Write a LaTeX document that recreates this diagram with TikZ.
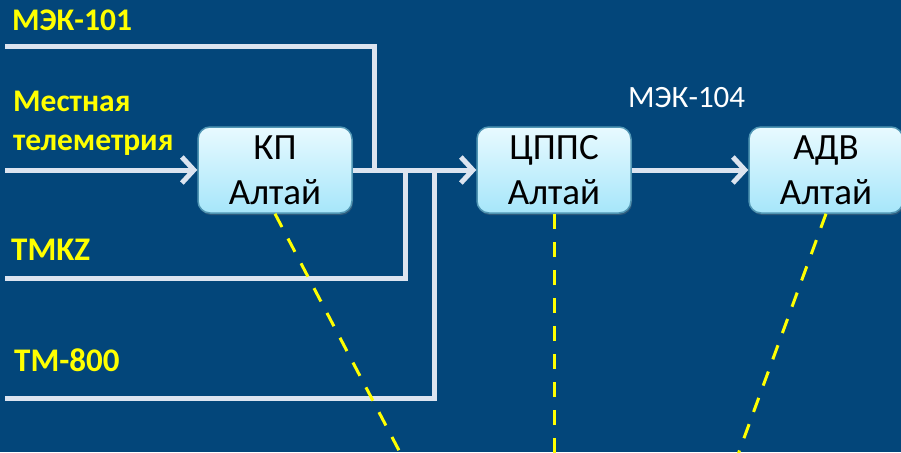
\documentclass[tikz,border=0pt]{standalone}
\usepackage{fontspec}
\setmainfont{Carlito}
\usetikzlibrary{arrows.meta,shadows}
\definecolor{bg}{RGB}{3,70,122}
\definecolor{wirec}{RGB}{220,228,240}
\definecolor{boxtop}{RGB}{232,250,255}
\definecolor{boxbot}{RGB}{166,230,250}
\definecolor{boxline}{RGB}{80,150,180}
\definecolor{ylw}{RGB}{255,255,0}
\tikzset{
  block/.style={rounded corners=12pt, top color=boxtop, bottom color=boxbot,
    draw=boxline, line width=1.5pt, minimum width=154pt, minimum height=86pt,
    inner sep=0pt, align=center, text=black,
    font=\fontsize{37}{45}\selectfont,
    drop shadow={opacity=0.35, shadow xshift=1pt, shadow yshift=-2pt}},
  wire/.style={draw=wirec, line width=5pt, line join=miter},
  tipw/.style={-{Straight Barb[length=12pt,width=26pt]}},
  ylabel/.style={text=ylw, font=\bfseries\fontsize{31.5}{36}\selectfont, anchor=base west, inner sep=0pt},
  ylabelb/.style={text=ylw, font=\bfseries\fontsize{33}{38}\selectfont, anchor=base west, inner sep=0pt},
  wlabel/.style={text=white, font=\fontsize{31}{36}\selectfont, anchor=base west, inner sep=0pt},
  dashy/.style={draw=ylw, line width=3pt, dash pattern=on 15pt off 13pt}
}
\begin{document}
\begin{tikzpicture}[x=1pt,y=-1pt]
\fill[bg] (0,0) rectangle (901,452);
\useasboundingbox (0,0) rectangle (901,452);

% boxes
\node[block] (KP) at (275,170) {КП\\Алтай};
\node[block] (CP) at (554,170) {ЦППС\\Алтай};
\node[block] (AD) at (826,170) {АДВ\\Алтай};

% labels
\node[ylabel] (l101) at (12,31) {МЭК-101};
\node[ylabel] (lmt1) at (13,111) {Местная};
\node[ylabel] (lmt2) at (13,150) {телеметрия};
\node[ylabelb] (ltmkz) at (11,260) {TMKZ};
\node[ylabelb] (ltm) at (14,371) {TM-800};
\node[wlabel] (l104) at (628,107) {МЭК-104};

% wire coordinates
\coordinate (s101) at (5,47);
\coordinate (j1) at (374,170);
\coordinate (smt) at (5,170);
\coordinate (stmkz) at (5,278);
\coordinate (j2) at (405,170);
\coordinate (stm) at (5,398);
\coordinate (j3) at (434,170);

% wires
\draw[wire] (s101) -| (j1);
\draw[wire] (stmkz) -| (j2);
\draw[wire] (stm) -| (j3);
\draw[wire,tipw] (smt) -- (KP.west);
\draw[wire,tipw] (KP.east) -- (CP.west);
\draw[wire,tipw] (CP.east) -- (AD.west);

% dashed lines
\coordinate (e1) at (404,460);
\coordinate (e2) at (554,460);
\coordinate (e3) at (736,460);
\draw[dashy] (KP.south) -- (e1);
\draw[dashy] (CP.south) -- (e2);
\draw[dashy] (AD.south) -- (e3);
\end{tikzpicture}
\end{document}
